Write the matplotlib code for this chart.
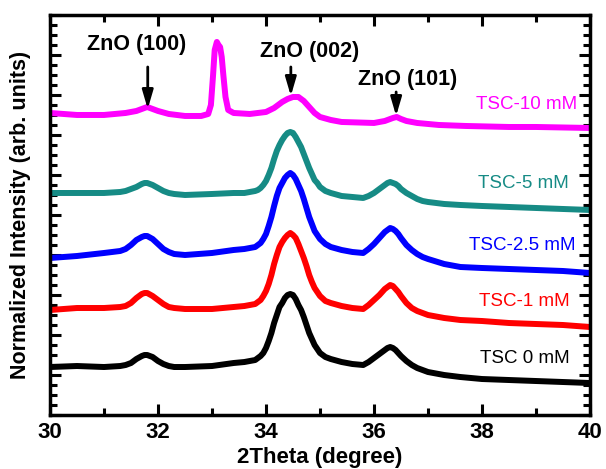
import matplotlib
matplotlib.use("Agg")
import matplotlib.pyplot as plt
from matplotlib.ticker import MultipleLocator

plt.rcParams['font.family'] = ['Liberation Sans', 'DejaVu Sans']

# ---- data (2Theta, normalized intensity with vertical offsets) ----
x_common = [30, 30.5, 31.0, 31.3, 31.4, 31.5, 31.6, 31.7, 31.75, 31.8, 31.9, 32.0, 32.1, 32.2, 32.3,
            32.5, 33.0, 33.4, 33.6, 33.8, 33.85, 33.9, 33.95, 34.0, 34.05, 34.1, 34.15, 34.2, 34.25,
            34.3, 34.35, 34.4, 34.45, 34.5, 34.55, 34.6, 34.65, 34.7, 34.75, 34.8, 34.85, 34.9, 34.95,
            35.0, 35.1, 35.2, 35.4, 35.6, 35.8, 35.9, 36.0, 36.1, 36.15, 36.2, 36.25, 36.3, 36.35,
            36.4, 36.45, 36.5, 36.6, 36.7, 36.8, 36.9, 37.0, 37.3, 37.6, 38.0, 38.5, 39.0, 39.5, 40]

y_0 = [48, 49, 48, 49, 50, 52, 56, 59, 60, 60, 58, 54, 51, 49, 48,
       48, 49, 52, 53, 55, 57, 59, 62, 67, 74, 82, 92, 100, 108,
       112, 117, 120, 121, 120, 116, 110, 105, 98, 90, 82, 76, 70, 66,
       62, 58, 56, 53, 51, 50, 53, 57, 61, 63, 65, 67, 68, 67,
       65, 62, 59, 54, 50, 47, 45, 43, 40, 38, 36, 35, 34, 33, 32]

y_1 = [105, 107, 107, 108, 109, 112, 117, 121, 122, 122, 119, 115, 111, 108, 107,
       106, 106, 108, 109, 111, 113, 115, 119, 124, 131, 140, 151, 160, 168,
       173, 177, 180, 182, 180, 177, 171, 164, 157, 149, 140, 133, 127, 123,
       119, 114, 112, 109, 107, 106, 110, 115, 120, 123, 126, 128, 130, 129,
       126, 123, 119, 112, 107, 104, 102, 100, 97, 95, 94, 92, 91, 90, 88]

y_25 = [157, 159, 162, 164, 166, 170, 175, 178, 179, 179, 176, 171, 166, 163, 161,
        160, 162, 165, 166, 168, 170, 172, 176, 181, 189, 198, 209, 219, 227,
        232, 237, 240, 242, 240, 236, 230, 224, 216, 207, 198, 191, 184, 180,
        176, 171, 168, 165, 163, 162, 166, 171, 177, 180, 183, 185, 187, 186,
        184, 181, 177, 170, 165, 161, 158, 156, 151, 148, 147, 146, 145, 144, 142]

y_5 = [222, 222, 222, 223, 224, 226, 228, 231, 232, 232, 230, 227, 224, 222, 221,
       220, 221, 222, 222, 224, 225, 227, 230, 234, 240, 247, 256, 264, 270,
       275, 279, 282, 283, 282, 278, 273, 268, 261, 254, 247, 241, 235, 232,
       228, 224, 222, 219, 218, 217, 219, 222, 226, 228, 230, 232, 233, 232,
       231, 229, 226, 222, 219, 216, 214, 213, 211, 210, 209, 208, 207, 206, 205]

x_10 = [30, 30.5, 31.0, 31.4, 31.6, 31.7, 31.8, 31.9, 32.0, 32.2, 32.5, 32.8, 32.93, 32.98, 33.02,
        33.05, 33.09, 33.12, 33.15, 33.18, 33.21, 33.25, 33.3, 33.4, 33.7, 34.0, 34.15, 34.3, 34.4,
        34.5, 34.6, 34.7, 34.8, 34.9, 35.0, 35.2, 35.4, 36.0, 36.2, 36.35, 36.42, 36.5, 36.6,
        36.8, 37.2, 37.7, 38.5, 39.0, 40]
y_10 = [302, 300, 300, 302, 304, 306, 308, 306, 304, 301, 299, 299, 301, 310, 340,
        365, 373, 370, 368, 358, 340, 318, 305, 302, 301, 303, 307, 313, 316,
        318, 318, 314, 308, 302, 298, 295, 293, 292, 294, 297, 298, 296, 294,
        292, 290, 289, 288, 288, 287]

series = [
    (x_common, y_0, 'black', 'TSC 0 mM', 39.63, 57),
    (x_common, y_1, '#ff0000', 'TSC-1 mM', 39.63, 114),
    (x_common, y_25, '#0000ff', 'TSC-2.5 mM', 39.74, 169),
    (x_common, y_5, '#168b85', 'TSC-5 mM', 39.6, 231),
    (x_10, y_10, '#ff00ff', 'TSC-10 mM', 39.76, 310),
]

peak_labels = ['ZnO (100)', 'ZnO (002)', 'ZnO (101)']
peak_pos = [31.81, 34.46, 36.41]

fig = plt.figure(figsize=(6.06, 4.69), dpi=100)
ax = fig.add_axes([0.0825, 0.1151, 0.8911, 0.853])

for xs, ys, c, lab, tx, ty in series:
    ax.plot(xs, ys, color=c, lw=4.3, solid_joinstyle='round', solid_capstyle='round')
    ax.text(tx, ty, lab, color=c, fontsize=13.5, ha='right', va='center')

# annotations
txt_xy = [(31.61, 370), (34.80, 363), (36.63, 335)]
arr = [(348, 306), (348, 319), (323, 299)]
for lab, px, (tx, ty), (a0, a1) in zip(peak_labels, peak_pos, txt_xy, arr):
    ax.text(tx, ty, lab, fontsize=15.5, fontweight='bold', ha='center', va='center')
    ax.annotate('', xy=(px, a1), xytext=(px, a0),
                arrowprops=dict(arrowstyle='-|>,head_length=0.75,head_width=0.22',
                                lw=2, color='black', mutation_scale=15,
                                shrinkA=0, shrinkB=0))

ax.set_xlim(30, 40)
ax.set_ylim(0, 400)
ax.xaxis.set_major_locator(MultipleLocator(2))
ax.xaxis.set_minor_locator(MultipleLocator(1))
ax.yaxis.set_major_locator(MultipleLocator(40))
ax.yaxis.set_minor_locator(MultipleLocator(10))
ax.tick_params(which='both', direction='in', top=True, right=True, width=2.2, color='black')
ax.tick_params(which='major', length=8, labelsize=16)
ax.tick_params(which='minor', length=5)
ax.set_yticklabels([])
for lab in ax.get_xticklabels():
    lab.set_fontweight('bold')
ax.tick_params(axis='x', pad=5)
for s in ax.spines.values():
    s.set_linewidth(2.5)

ax.set_xlabel('2Theta (degree)', fontsize=16, fontweight='bold', labelpad=3)
ax.set_ylabel('Normalized Intensity (arb. units)', fontsize=15.5, fontweight='bold', labelpad=10)

fig.savefig('out.png', dpi=100)
